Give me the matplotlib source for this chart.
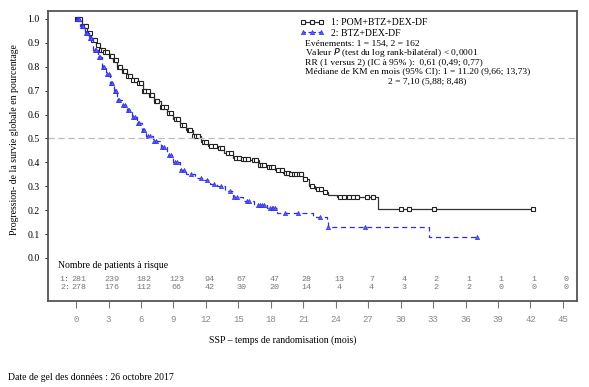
import numpy as np
import matplotlib
matplotlib.use("Agg")
import matplotlib.pyplot as plt
from matplotlib.lines import Line2D

plt.rcParams["font.family"] = ["Liberation Serif", "DejaVu Serif"]

# group 1: POM+BTZ+DEX-DF (step times, survival after each step)
t1 = [0, 0.5, 1.0, 1.4, 1.8, 2.2, 2.6, 3.0, 3.4, 3.8, 4.2, 4.7, 5.2, 5.7, 6.2,
      6.7, 7.2, 7.8, 8.4, 9.0, 9.6, 10.2, 10.8, 11.5, 12.2, 13.0, 13.7, 14.5,
      15.3, 16.1, 16.9, 17.6, 18.4, 19.1, 19.8, 21.0, 21.5, 22.1, 22.8, 23.3,
      24.1, 27.9]
s1 = [1.0, 0.97, 0.94, 0.91, 0.89, 0.87, 0.86, 0.845, 0.83, 0.80, 0.78, 0.76,
      0.745, 0.73, 0.70, 0.68, 0.655, 0.63, 0.605, 0.58, 0.555, 0.535, 0.51,
      0.485, 0.47, 0.46, 0.44, 0.42, 0.415, 0.41, 0.39, 0.38, 0.37, 0.355,
      0.35, 0.33, 0.30, 0.29, 0.275, 0.265, 0.256, 0.205]
end1 = 42.2
cens1 = [0.05, 0.2, 0.35, 0.6, 0.8, 0.9, 1.1, 1.3, 1.6, 1.7, 2.0, 2.3, 2.5,
         2.7, 2.9, 3.2, 3.3, 3.6, 3.7, 4.0, 4.1, 4.4, 4.5, 4.8, 5.0, 5.3, 5.5,
         5.8, 6.0, 6.3, 6.4, 6.6, 6.9, 7.0, 7.4, 7.5, 7.9, 8.0, 8.3, 8.6, 8.8,
         9.2, 9.4, 9.8, 10.0, 10.4, 10.5, 10.9, 11.1, 11.3, 11.8, 12.0, 12.5,
         12.8, 13.3, 13.5, 14.0, 14.3, 14.8, 15.1, 15.4, 15.6, 15.9, 16.4,
         16.6, 17.0, 17.2, 17.4, 17.8, 18.0, 18.2, 18.7, 19.0, 19.4, 19.6,
         19.9, 20.1, 20.3, 20.6, 20.8, 21.2, 21.8, 22.4, 22.6, 23.0, 24.4,
         24.8, 25.2, 25.6, 26.0, 26.9, 27.4, 30.0, 30.8, 33.1, 42.2]

# group 2: BTZ+DEX-DF
t2 = [0, 0.4, 0.8, 1.2, 1.6, 2.0, 2.4, 2.8, 3.1, 3.5, 3.8, 4.2, 4.7, 5.2, 5.6,
      6.1, 6.5, 7.1, 7.8, 8.4, 9.0, 9.6, 10.2, 11.0, 11.8, 12.4, 13.0, 13.8,
      14.5, 15.4, 16.4, 17.6, 18.6, 21.9, 23.2, 23.3, 32.6]
s2 = [1.0, 0.97, 0.94, 0.92, 0.87, 0.84, 0.80, 0.77, 0.73, 0.70, 0.66, 0.64,
      0.62, 0.59, 0.565, 0.535, 0.51, 0.49, 0.465, 0.43, 0.40, 0.37, 0.35,
      0.335, 0.325, 0.31, 0.30, 0.28, 0.255, 0.24, 0.22, 0.21, 0.19, 0.17,
      0.16, 0.13, 0.088]
end2 = 37.1
cens2 = [0.05, 0.15, 0.3, 0.5, 0.6, 0.9, 1.0, 1.3, 1.4, 1.7, 1.8, 2.1, 2.2,
         2.5, 2.6, 2.9, 3.0, 3.2, 3.3, 3.6, 3.7, 3.9, 4.0, 4.3, 4.5, 4.8, 4.9,
         5.3, 5.4, 5.7, 5.8, 6.2, 6.3, 6.6, 6.8, 7.2, 7.4, 7.9, 8.1, 8.6, 8.8,
         9.1, 9.3, 9.7, 10.0, 10.6, 11.5, 12.1, 12.7, 13.4, 14.2, 14.6, 14.9,
         15.8, 16.0, 16.8, 17.0, 17.2, 17.4, 17.9, 18.1, 18.2, 18.4, 19.3,
         20.5, 22.5, 23.3, 26.7, 37.1]

# patients at risk
risk_times = list(range(0, 46, 3))
risk1 = [281, 239, 182, 123, 94, 67, 47, 28, 13, 7, 4, 2, 1, 1, 1, 0]
risk2 = [278, 176, 112, 66, 42, 30, 20, 14, 4, 4, 3, 2, 2, 0, 0, 0]

stats_lines = [
    "Evénements: 1 = 154, 2 = 162",
    "Valeur $\\it{P}$ (test du log rank-bilatéral) < 0,0001",
    "RR (1 versus 2) (IC à 95% ):  0,61 (0,49; 0,77)",
    "Médiane de KM en mois (95% CI): 1 = 11.20 (9,66; 13,73)",
]
stats_last = "2 = 7,10 (5,88; 8,48)"


def step_at(t, s, x):
    i = np.searchsorted(t, x, side="right") - 1
    return np.asarray(s)[i]


fig = plt.figure(figsize=(5.89, 3.87), dpi=100)
ax = fig.add_axes([48 / 589, 1 - 301 / 387, 529 / 589, 290 / 387])

# curves
tt1 = list(t1) + [end1]
ss1 = list(s1) + [s1[-1]]
ax.step(tt1, ss1, where="post", color="#333333", lw=0.9)
ax.plot(cens1, step_at(t1, s1, cens1), ls="none", marker="s", ms=3.3,
        mfc="white", mec="#222222", mew=0.8)

tt2 = list(t2) + [end2]
ss2 = list(s2) + [s2[-1]]
ax.step(tt2, ss2, where="post", color="#2b2bff", lw=0.9, ls=(0, (4, 3)))
ax.plot(cens2, step_at(t2, s2, cens2), ls="none", marker="^", ms=3.0,
        mfc="#5c5cff", mec="#2b2bff", mew=0.5)

ax.axhline(0.5, color="#bbbbbb", lw=0.9, ls=(0, (5, 3)))

ax.set_xlim(-2.6, 46.3)
ax.set_ylim(-0.18, 1.033)
ax.set_xticks(risk_times)
ax.set_xticklabels([str(v) for v in risk_times], color="#888888",
                   fontsize=6.5, family="Liberation Mono")
ax.set_yticks(np.round(np.arange(0, 1.01, 0.1), 1))
ax.set_yticklabels([f"{v:.1f}" for v in np.arange(0, 1.01, 0.1)], fontsize=7)
ax.tick_params(axis="x", length=5, width=0.8, color="#777777", pad=5)
ax.tick_params(axis="y", length=2, width=0.6, pad=4)
for sp in ax.spines.values():
    sp.set_color("#555555")
    sp.set_linewidth(1.3)

# risk table
ax.text(-1.7, -0.03, "Nombre de patients à risque", fontsize=7, va="center")
for row, (lab, vals) in enumerate([("1:", risk1), ("2:", risk2)]):
    y = -0.088 - row * 0.034
    ax.text(-1.5, y, lab, fontsize=6, color="#777777", va="center",
            family="Liberation Mono")
    for x, v in zip(risk_times, vals):
        ax.text(x + 0.3, y, str(v), fontsize=6, color="#777777", va="center",
                ha="center", family="Liberation Mono")

# legend
handles = [
    Line2D([], [], color="#333333", lw=0.9, marker="s", ms=3.3, mfc="white",
           mec="#222222", mew=0.8),
    Line2D([], [], color="#2b2bff", lw=0.9, ls=(0, (2, 2)), marker="^", ms=3.0,
           mfc="#5c5cff", mec="#2b2bff", mew=0.5),
]
ax.legend(handles, ["1: POM+BTZ+DEX-DF", "2: BTZ+DEX-DF"], loc="upper left",
          bbox_to_anchor=(0.46, 1.005), frameon=False, numpoints=3,
          fontsize=7, handlelength=2.4, handletextpad=0.8, labelspacing=0.15)

for i, line in enumerate(stats_lines):
    fig.text(305 / 589, 1 - (43.5 + i * 9.3) / 387, line, fontsize=6.8,
             va="center")
fig.text(388 / 589, 1 - 81 / 387, stats_last, fontsize=6.8, va="center")

fig.text(15 / 589, 1 - 140 / 387,
         "Progression- de la survie globale en pourcentage", rotation=90,
         fontsize=7, ha="center", va="center")
fig.text(283 / 589, 1 - 340 / 387, "SSP – temps de randomisation (mois)",
         fontsize=7, ha="center", va="center")
fig.text(8 / 589, 1 - 377 / 387, "Date de gel des données : 26 octobre 2017",
         fontsize=7, ha="left", va="center")

fig.savefig("out.png", dpi=100)
